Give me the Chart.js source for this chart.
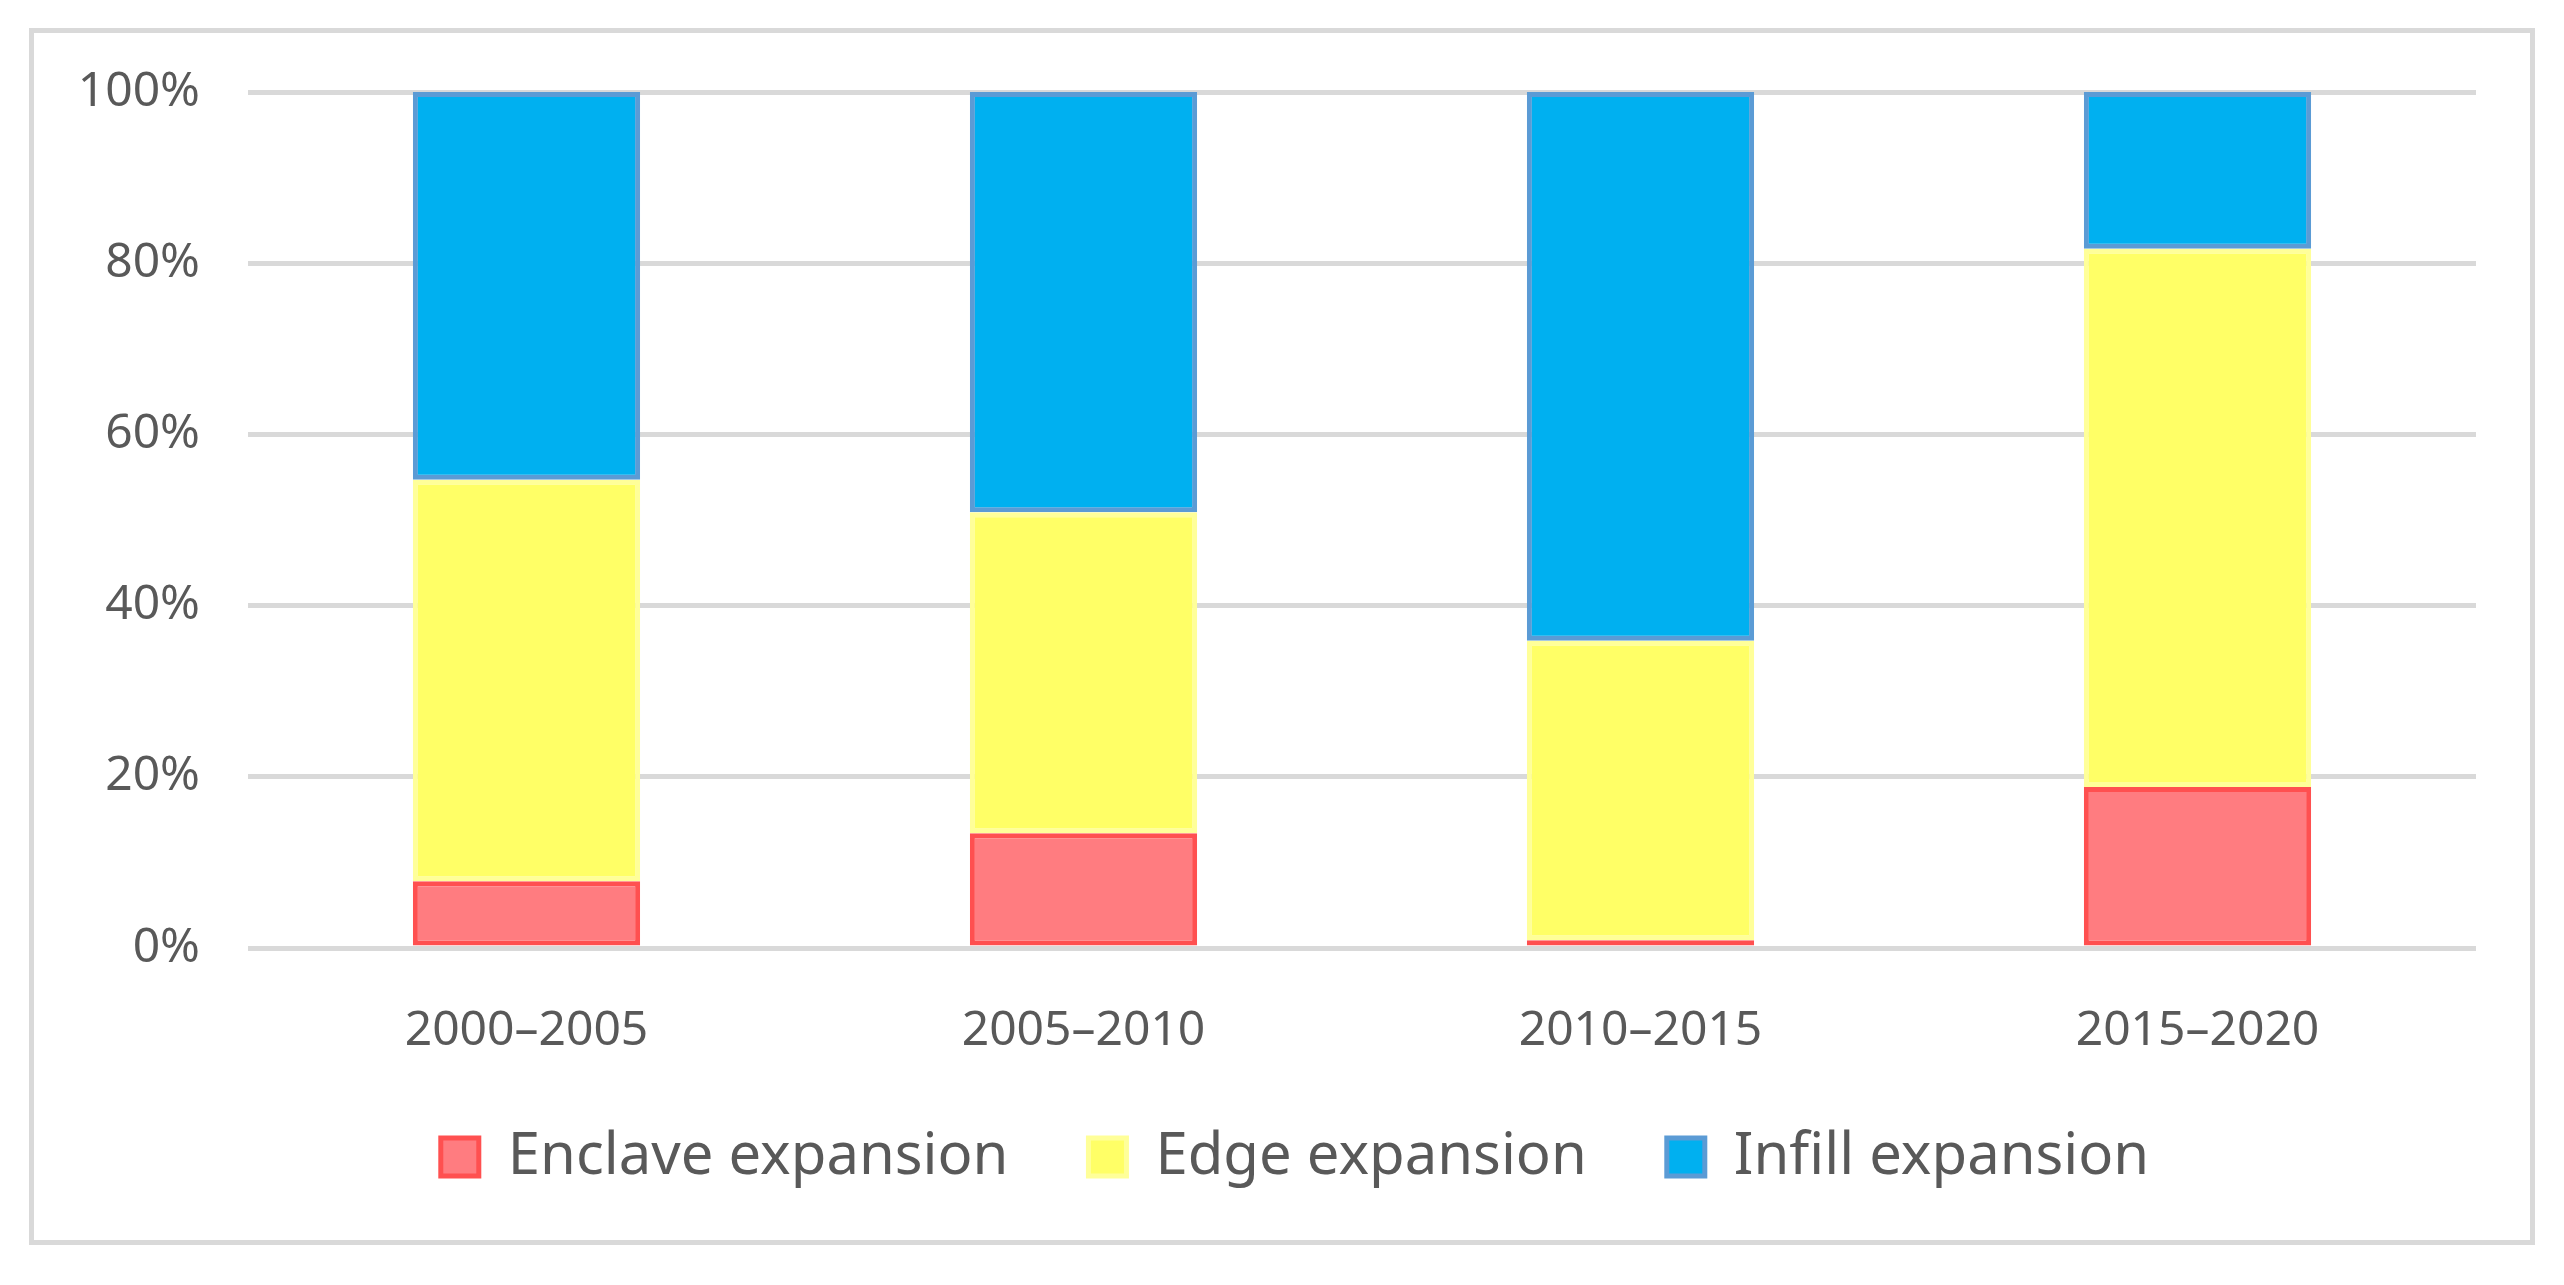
<!DOCTYPE html>
<html>
<head>
<meta charset="utf-8">
<script src="https://cdn.jsdelivr.net/npm/chart.js@4"></script>
<style>
  html, body { margin: 0; padding: 0; background: #fff; }
  #frame {
    position: absolute;
    left: 29px;
    top: 28px;
    width: 2496px;
    height: 1207px;
    border: 5px solid #d9d9d9;
  }
  canvas { display: block; }
</style>
</head>
<body>
<div id="frame"><canvas id="chart" width="2496" height="1207"></canvas></div>
<script>
'use strict';

const PERIODS = ['2000–2005', '2005–2010', '2010–2015', '2015–2020'];
const ENCLAVE = [7.8, 13.4, 0.9, 18.8];
const EDGE = [46.9, 37.5, 35.0, 62.9];
const INFILL = [45.3, 49.1, 64.1, 18.3];
const Y_TICKS = [0, 20, 40, 60, 80, 100];

const TEXT_COLOR = '#595959';
const FONT = '"Noto Sans", "Open Sans", sans-serif';

function makeSet(label, data, fill, border) {
    return {
        label: label,
        data: data,
        backgroundColor: fill,
        borderColor: border,
        borderWidth: 5,
        borderSkipped: false,
        categoryPercentage: 1,
        barPercentage: 0.408
    };
}

// nudge the legend a little to the right, like the original
const legendShift = {
    id: 'legendShift',
    afterLayout(chart) {
        if (chart.legend) {
            chart.legend.left += 20;
            chart.legend.right += 20;
        }
    }
};

const data = {
    labels: PERIODS,
    datasets: [
        makeSet('Enclave expansion', ENCLAVE, '#ff7c80', '#ff5050'),
        makeSet('Edge expansion', EDGE, '#ffff66', '#ffff99'),
        makeSet('Infill expansion', INFILL, '#00b0f0', '#5b9bd5')
    ]
};

const config = {
    type: 'bar',
    data,
    plugins: [legendShift],
    options: {
        responsive: false,
        animation: false,
        devicePixelRatio: 1,
        layout: {
            padding: { top: 59, right: 54, bottom: 44, left: 40 }
        },
        plugins: {
            tooltip: { enabled: false },
            legend: {
                position: 'bottom',
                labels: {
                    color: TEXT_COLOR,
                    font: { family: FONT, size: 58 },
                    boxWidth: 38,
                    boxHeight: 38,
                    padding: 80
                }
            }
        },
        scales: {
            x: {
                stacked: true,
                grid: { display: false },
                border: { display: false },
                ticks: {
                    color: TEXT_COLOR,
                    font: { family: FONT, size: 48 },
                    padding: 47
                },
                afterFit: function (scale) {
                    scale.height = 100;
                }
            },
            y: {
                stacked: true,
                min: 0,
                max: 100,
                border: { display: false },
                grid: {
                    color: '#d9d9d9',
                    lineWidth: 5,
                    drawTicks: false
                },
                afterBuildTicks: function (scale) {
                    scale.ticks = Y_TICKS.map(v => ({ value: v }));
                },
                ticks: {
                    color: TEXT_COLOR,
                    font: { family: FONT, size: 48, lineHeight: 0.46 },
                    padding: 48,
                    callback: function (value) {
                        return value + '%';
                    }
                },
                afterFit: function (scale) {
                    scale.width = 174;
                }
            }
        }
    }
};

new Chart(document.getElementById('chart'), config);
</script>
</body>
</html>
